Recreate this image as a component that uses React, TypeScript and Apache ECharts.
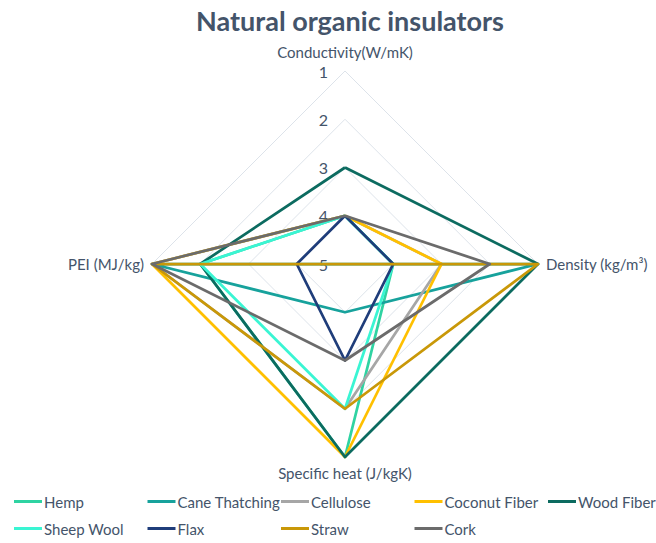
import React, { useEffect, useRef } from "react";
import * as echarts from "echarts";

const TITLE = "Natural organic insulators";
// Axes in counter-clockwise order starting at top
const axisNames = ["Conductivity(W/mK)", "PEI (MJ/kg)", "Specific heat (J/kgK)", "Density (kg/m³)"];
// Scale: 1 at the outer ring, 5 at the centre
const scaleOuter = 1;
const scaleInner = 5;
const tickLabels = ["1", "2", "3", "4", "5"];

const seriesNames = [
  "Hemp",
  "Cane Thatching",
  "Cellulose",
  "Coconut Fiber",
  "Wood Fiber",
  "Sheep Wool",
  "Flax",
  "Straw",
  "Cork",
];
const seriesColors = [
  "#2fd3a2",
  "#17a29c",
  "#a6a6a6",
  "#ffc000",
  "#0c6b60",
  "#3af5d3",
  "#1f3d7a",
  "#c99808",
  "#6b6b6b",
];
// Values: [Conductivity, PEI, Specific heat, Density]
const hemp = [4, 2, 1, 4];
const caneThatching = [5, 1, 4, 1];
const cellulose = [4, 1, 2, 3];
const coconutFiber = [4, 1, 1, 3];
const woodFiber = [3, 2, 1, 1];
const sheepWool = [4, 2, 2, 4];
const flax = [4, 4, 3, 4];
const straw = [5, 1, 2, 1];
const cork = [4, 1, 3, 2];
const seriesValues = [hemp, caneThatching, cellulose, coconutFiber, woodFiber, sheepWool, flax, straw, cork];

const FONT = "Lato, 'Open Sans', sans-serif";
const SLATE = "#44546a";

export default function App() {
  const ref = useRef<HTMLDivElement>(null);
  useEffect(() => {
    if (!ref.current) return;
    const chart = echarts.init(ref.current, undefined, { renderer: "svg" });
    const span = scaleInner - scaleOuter;
    const indicator = axisNames.map((name, i) => ({
      name,
      min: 0,
      max: span,
      nameGap: i === 0 ? 12 : 8,
      axisLabel: {
        show: i === 0,
        formatter: (v: number) => tickLabels[span - v] ?? String(scaleInner - v),
      },
    }));
    const legends = seriesNames.map((name, k) => ({
      orient: "horizontal",
      left: 14 + (k % 5) * 133.5,
      top: 494 + Math.floor(k / 5) * 27,
      itemWidth: 28,
      itemHeight: 3,
      icon: "rect",
      padding: 0,
      data: [name],
      textStyle: { fontFamily: FONT, fontSize: 15, color: SLATE, padding: [0, 0, 0, -3] },
    }));
    chart.setOption({
      animation: false,
      backgroundColor: "#ffffff",
      title: {
        text: TITLE,
        left: 345,
        top: 2,
        textAlign: "center",
        textStyle: { fontFamily: FONT, fontSize: 27, fontWeight: "bold", color: SLATE },
      },
      legend: legends,
      radar: {
        center: [345, 264],
        radius: 193,
        startAngle: 90,
        shape: "polygon",
        splitNumber: 4,
        indicator,
        axisName: { color: SLATE, fontFamily: FONT, fontSize: 15 },
        nameGap: 8,
        axisLine: { show: false },
        axisTick: { show: false },
        axisLabel: { show: false, color: SLATE, fontFamily: FONT, fontSize: 16, margin: 17 },
        splitLine: { lineStyle: { color: "#dde3ea", width: 1 } },
        splitArea: { show: false },
      },
      series: seriesNames.map((name, i) => ({
        type: "radar",
        name,
        symbol: "none",
        color: seriesColors[i],
        lineStyle: { width: 2.75, color: seriesColors[i] },
        data: [{ name, value: seriesValues[i].map((v) => scaleInner - v) }],
      })),
    });
    return () => chart.dispose();
  }, []);
  return (
    <div
      ref={ref}
      style={{ position: "fixed", left: 0, top: 0, width: 656, height: 543 }}
    />
  );
}
